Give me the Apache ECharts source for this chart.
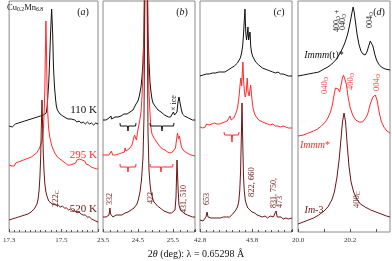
<!DOCTYPE html>
<html><head><meta charset="utf-8">
<script src="https://cdn.jsdelivr.net/npm/echarts@6/dist/echarts.min.js"></script>
<style>html,body{margin:0;padding:0;background:#fff}#c{width:392px;height:261px}</style>
</head><body><div id="c"></div>
<script>
// ---------------- data (2θ in degrees, intensity in arbitrary offset units) ----------------
const ticksA = ['17.3', '17.5'];
const ticksB = ['23.5', '24.5', '25.5'];
const ticksC = ['42.8', '43.8'];
const ticksD = ['20.0', '20.2'];

const a110 = [[17.300,106],[17.306,107],[17.312,105],[17.318,107],[17.324,108],[17.330,106],[17.336,109],[17.342,108],[17.348,110],[17.354,108],[17.360,111],[17.366,110],[17.372,112],[17.378,110],[17.384,113],[17.390,112],[17.396,114],[17.402,113],[17.408,115],[17.414,114],[17.420,116],[17.426,115],[17.432,117],[17.438,117],[17.442,119],[17.445,124],[17.448,134],[17.452,150],[17.455,170],[17.459,200],[17.463,223],[17.467,198],[17.470,165],[17.474,145],[17.478,133],[17.481,126],[17.485,122],[17.489,120],[17.495,118],[17.500,117],[17.506,116],[17.511,115],[17.518,114],[17.526,113],[17.532,112],[17.538,113],[17.545,111],[17.552,112],[17.560,110],[17.568,111],[17.576,109],[17.584,110],[17.592,108],[17.600,110],[17.608,108],[17.616,109],[17.624,107],[17.632,109],[17.641,108]];
const a295 = [[17.300,67],[17.305,69],[17.310,66],[17.315,68],[17.320,66],[17.325,69],[17.330,67],[17.335,70],[17.340,68],[17.345,71],[17.350,69],[17.355,72],[17.360,70],[17.365,73],[17.370,71],[17.375,74],[17.380,72],[17.385,75],[17.390,74],[17.395,77],[17.400,76],[17.405,79],[17.410,80],[17.415,83],[17.420,85],[17.425,90],[17.429,96],[17.432,106],[17.435,125],[17.437,145],[17.439,180],[17.441,211],[17.443,185],[17.445,150],[17.448,120],[17.451,105],[17.455,96],[17.460,90],[17.465,85],[17.470,83],[17.475,79],[17.480,77],[17.485,75],[17.490,76],[17.495,73],[17.500,74],[17.505,71],[17.510,72],[17.515,69],[17.520,70],[17.525,67],[17.530,69],[17.535,67],[17.540,69],[17.545,68],[17.550,70],[17.555,69],[17.560,72],[17.565,70],[17.570,73],[17.575,71],[17.580,72],[17.585,70],[17.590,71],[17.595,68],[17.600,69],[17.605,67],[17.610,68],[17.615,65],[17.620,66],[17.625,64],[17.630,65],[17.635,63],[17.641,64]];
const a520 = [[17.300,12],[17.306,11],[17.312,13],[17.318,12],[17.324,14],[17.330,13],[17.336,15],[17.342,14],[17.348,16],[17.354,15],[17.360,17],[17.366,16],[17.372,18],[17.378,19],[17.384,20],[17.390,21],[17.396,23],[17.402,25],[17.407,28],[17.411,33],[17.415,42],[17.418,55],[17.421,75],[17.423,100],[17.426,132],[17.429,100],[17.431,78],[17.434,60],[17.437,48],[17.441,40],[17.446,35],[17.452,31],[17.458,30],[17.465,28],[17.472,29],[17.480,27],[17.488,27],[17.496,25],[17.504,26],[17.512,24],[17.520,24],[17.528,22],[17.536,23],[17.544,21],[17.552,21],[17.560,19],[17.568,20],[17.576,18],[17.584,17],[17.592,17],[17.600,15],[17.608,15],[17.616,13],[17.624,12],[17.632,11],[17.641,10]];

const b110 = [[23.500,112],[23.529,111],[23.557,113],[23.586,112],[23.614,113],[23.643,112],[23.671,114],[23.700,113],[23.729,116],[23.743,113],[23.771,114],[23.800,113],[23.843,115],[23.886,114],[23.929,115],[23.971,114],[24.014,116],[24.057,116],[24.100,118],[24.143,117],[24.186,118],[24.229,119],[24.271,120],[24.314,121],[24.357,122],[24.400,125],[24.443,128],[24.471,129],[24.500,131],[24.543,137],[24.586,145],[24.614,155],[24.643,170],[24.671,200],[24.700,280],[24.729,700],[24.757,280],[24.786,200],[24.814,170],[24.843,150],[24.871,140],[24.900,133],[24.929,129],[24.957,127],[24.986,126],[25.029,124],[25.071,122],[25.114,121],[25.157,120],[25.200,118],[25.257,117],[25.314,116],[25.371,115],[25.429,115],[25.486,116],[25.514,120],[25.543,117],[25.586,117],[25.614,120],[25.643,130],[25.671,135],[25.700,134],[25.729,124],[25.771,118],[25.829,116],[25.886,115],[25.943,114],[26.000,113],[26.057,112],[26.129,112]];
const b295 = [[23.500,77],[23.529,76],[23.557,78],[23.586,77],[23.614,76],[23.643,78],[23.671,77],[23.714,78],[23.743,81],[23.771,77],[23.814,78],[23.857,77],[23.900,79],[23.943,78],[23.986,80],[24.029,79],[24.071,81],[24.114,80],[24.129,84],[24.157,81],[24.200,82],[24.243,83],[24.286,85],[24.329,87],[24.371,93],[24.400,97],[24.429,95],[24.457,92],[24.486,100],[24.514,105],[24.543,110],[24.586,120],[24.614,135],[24.643,160],[24.671,200],[24.700,300],[24.729,800],[24.757,300],[24.786,190],[24.814,140],[24.843,118],[24.871,104],[24.900,98],[24.929,96],[24.957,94],[24.986,92],[25.029,90],[25.071,88],[25.114,86],[25.157,85],[25.200,83],[25.271,82],[25.343,80],[25.414,79],[25.486,80],[25.529,81],[25.571,84],[25.600,92],[25.629,99],[25.657,93],[25.686,96],[25.714,90],[25.743,85],[25.786,82],[25.843,80],[25.900,79],[25.957,78],[26.014,77],[26.071,77],[26.129,76]];
const b520 = [[23.500,15],[23.529,14],[23.557,16],[23.586,15],[23.614,16],[23.643,15],[23.671,17],[23.686,16],[23.700,24],[23.714,18],[23.743,16],[23.786,15],[23.829,16],[23.871,17],[23.914,16],[23.957,17],[24.000,18],[24.043,17],[24.086,18],[24.129,19],[24.171,19],[24.214,20],[24.257,21],[24.300,22],[24.343,23],[24.386,24],[24.429,26],[24.471,28],[24.514,33],[24.557,40],[24.600,52],[24.643,75],[24.671,115],[24.700,250],[24.729,900],[24.757,250],[24.786,100],[24.814,62],[24.843,48],[24.871,40],[24.914,34],[24.957,30],[25.000,28],[25.057,26],[25.114,24],[25.171,23],[25.243,21],[25.314,20],[25.386,19],[25.457,19],[25.514,20],[25.557,22],[25.586,35],[25.614,72],[25.643,45],[25.671,27],[25.714,22],[25.771,20],[25.843,18],[25.914,17],[25.986,16],[26.057,15],[26.129,15]];

const c110 = [[42.800,156],[42.830,155],[42.860,157],[42.890,156],[42.920,158],[42.950,157],[42.980,158],[43.010,157],[43.040,159],[43.070,158],[43.100,159],[43.130,158],[43.160,160],[43.190,159],[43.220,160],[43.250,161],[43.280,160],[43.310,162],[43.340,162],[43.370,163],[43.400,164],[43.430,165],[43.460,166],[43.490,168],[43.520,169],[43.550,171],[43.575,174],[43.600,179],[43.620,186],[43.635,196],[43.650,210],[43.665,223],[43.680,200],[43.695,192],[43.710,198],[43.722,205],[43.735,192],[43.750,190],[43.762,200],[43.775,186],[43.790,180],[43.810,176],[43.840,173],[43.870,170],[43.900,168],[43.930,167],[43.960,165],[44.000,164],[44.050,163],[44.100,162],[44.150,161],[44.200,160],[44.250,159],[44.300,160],[44.350,158],[44.400,158],[44.450,157],[44.500,156],[44.569,156]];
const c295 = [[42.800,105],[42.825,107],[42.850,104],[42.875,106],[42.900,105],[42.925,108],[42.950,106],[42.975,107],[43.000,105],[43.025,108],[43.050,107],[43.075,109],[43.100,107],[43.125,108],[43.150,110],[43.175,108],[43.200,110],[43.225,109],[43.250,111],[43.275,110],[43.300,112],[43.325,111],[43.350,113],[43.377,116],[43.400,112],[43.425,111],[43.450,114],[43.475,117],[43.500,120],[43.525,125],[43.550,135],[43.570,147],[43.585,154],[43.600,146],[43.615,160],[43.625,170],[43.640,150],[43.655,140],[43.670,135],[43.690,140],[43.708,154],[43.725,140],[43.745,136],[43.760,142],[43.775,147],[43.790,138],[43.805,130],[43.820,124],[43.845,119],[43.870,116],[43.900,114],[43.930,112],[43.960,111],[44.000,110],[44.050,109],[44.100,108],[44.150,107],[44.200,108],[44.250,106],[44.300,106],[44.350,105],[44.400,106],[44.450,105],[44.500,104],[44.569,104]];
const c520 = [[42.800,12],[42.830,13],[42.860,11],[42.890,13],[42.915,15],[42.935,20],[42.955,15],[42.980,13],[43.010,14],[43.040,12],[43.070,14],[43.100,13],[43.130,14],[43.160,12],[43.190,14],[43.220,13],[43.250,15],[43.280,14],[43.310,15],[43.340,16],[43.370,15],[43.400,17],[43.430,18],[43.460,20],[43.490,22],[43.520,25],[43.545,30],[43.565,42],[43.580,60],[43.595,95],[43.608,129],[43.620,95],[43.635,58],[43.650,42],[43.670,32],[43.690,28],[43.720,24],[43.760,22],[43.800,20],[43.850,19],[43.900,17],[43.950,16],[44.000,15],[44.050,16],[44.100,14],[44.150,16],[44.185,18],[44.210,15],[44.240,16],[44.262,21],[44.285,15],[44.320,14],[44.360,15],[44.400,13],[44.450,14],[44.500,13],[44.569,14]];

const d110 = [[20.000,156],[20.020,157],[20.040,158],[20.060,159],[20.080,160],[20.100,163],[20.115,165],[20.130,168],[20.145,172],[20.160,178],[20.170,183],[20.180,189],[20.190,197],[20.197,205],[20.203,213],[20.208,220],[20.212,225],[20.216,220],[20.221,210],[20.227,198],[20.234,188],[20.242,181],[20.250,178],[20.258,177],[20.265,180],[20.272,186],[20.278,191],[20.282,191],[20.288,186],[20.295,178],[20.302,172],[20.310,168],[20.320,165],[20.335,163],[20.354,162]];
const d295 = [[20.000,96],[20.020,97],[20.040,99],[20.060,101],[20.075,103],[20.090,106],[20.105,110],[20.115,114],[20.125,120],[20.132,127],[20.138,136],[20.144,144],[20.150,146],[20.155,143],[20.160,140],[20.165,146],[20.170,153],[20.175,157],[20.180,156],[20.186,148],[20.192,136],[20.200,125],[20.210,117],[20.222,112],[20.235,110],[20.248,110],[20.258,113],[20.268,118],[20.278,128],[20.288,135],[20.297,137],[20.304,132],[20.312,120],[20.320,111],[20.330,105],[20.342,101],[20.354,99]];
const d520 = [[20.000,8],[20.020,10],[20.040,12],[20.060,14],[20.080,17],[20.100,21],[20.115,25],[20.130,32],[20.140,40],[20.150,55],[20.158,72],[20.165,92],[20.171,110],[20.177,119],[20.183,110],[20.189,88],[20.196,66],[20.204,50],[20.214,40],[20.226,33],[20.240,28],[20.258,25],[20.280,22],[20.300,20],[20.320,18],[20.340,16],[20.354,15]];

// superstructure-range braces (data coordinates)
const braceB110a = [[23.986,109],[23.995,106],[24.200,106],[24.214,101],[24.228,106],[24.430,106],[24.443,109]];
const braceB110b = [[24.843,109],[24.855,106],[25.172,106],[25.186,101],[25.200,106],[25.515,106],[25.529,109]];
const braceB295a = [[23.986,68],[23.995,65],[24.200,65],[24.214,60],[24.228,65],[24.430,65],[24.443,68]];
const braceB295b = [[24.843,68],[24.855,65],[25.143,65],[25.157,60],[25.171,65],[25.490,65],[25.500,68]];
const braceC295 = [[43.262,100],[43.272,97],[43.405,97],[43.415,90],[43.425,97],[43.540,97],[43.550,100]];

// ---------------- chart ----------------
const FONT = 'Liberation Serif';
const K = '#111111', R = '#ff2b2b', M = '#6e1414';
const panels = [
  {min:17.3, max:17.6407, interval:0.2, minor:10, labels:ticksA, left:6},
  {min:23.5, max:26.1286, interval:1, minor:5, labels:ticksB, left:103},
  {min:42.8, max:44.5692, interval:1, minor:8, labels:ticksC, left:200},
  {min:20.0, max:20.3538, interval:0.1, minor:0, labels:ticksD, left:298}
];
const traces = [[a110,a295,a520],[b110,b295,b520],[c110,c295,c520],[d110,d295,d520]];
const braces = [[1,braceB110a,K],[1,braceB110b,K],[1,braceB295a,R],[1,braceB295b,R],[2,braceC295,R]];

const series = [];
traces.forEach((tr, g) => {
  [K, R, M].forEach((col, k) => {
    series.push({type:'line', xAxisIndex:g, yAxisIndex:g, data:tr[k], showSymbol:false, silent:true,
      lineStyle:{color:col, width:1}, clip:true});
  });
});
braces.forEach(([g, d, col]) => {
  series.push({type:'line', xAxisIndex:g, yAxisIndex:g, data:d, showSymbol:false, silent:true,
    lineStyle:{color:col, width:1}});
});

function rich(sz, col) {
  return {
    s:{fontSize:sz*0.68, fontFamily:FONT, fill:col, verticalAlign:'bottom', padding:[sz*0.45,0,0,0]},
    i:{fontSize:sz, fontFamily:FONT, fontStyle:'italic', fill:col},
    n:{fontSize:sz, fontFamily:FONT, fill:col}
  };
}
function txt(x, y, text, col, sz, opt) {
  opt = opt || {};
  return {type:'text', x:x, y:y, rotation: opt.rot ? Math.PI/2 : 0, silent:true, z:100,
    style:{text:text, fill:col, fontSize:sz, fontFamily:FONT, fontStyle: opt.italic ? 'italic' : 'normal',
      align: opt.align || 'center', verticalAlign: opt.va || 'middle', rich: rich(sz, col)}};
}
const graphics = [
  txt(7, 8, 'Cu{s|0.2}Mn{s|6.8}', K, 8.5, {align:'left'}),
  txt(83, 12, '({i|a})', K, 10),
  txt(182, 12, '({i|b})', K, 10),
  txt(279, 12, '({i|c})', K, 10),
  txt(379, 12, '({i|d})', K, 10),
  txt(97, 110, '110 K', K, 11, {align:'right'}),
  txt(97, 155, '295 K', R, 11, {align:'right'}),
  txt(97, 209, '520 K', M, 11, {align:'right'}),
  txt(56, 207, '222{s|C}', M, 8.5, {rot:true, align:'left'}),
  txt(110, 205, '332', M, 8, {rot:true, align:'left'}),
  txt(151, 204, '422', M, 8, {rot:true, align:'left'}),
  txt(184, 213, '431, 510', M, 8, {rot:true, align:'left'}),
  txt(174, 111, '× ice', K, 8, {rot:true, align:'left'}),
  txt(207, 205, '653', M, 8, {rot:true, align:'left'}),
  txt(252, 197, '822, 660', M, 8.5, {rot:true, align:'left'}),
  txt(274, 208, '831, 750,', M, 8, {rot:true, align:'left'}),
  txt(280, 208, '473', M, 8, {rot:true, align:'left'}),
  txt(337, 32, '400{s|O} +', K, 8, {rot:true, align:'left'}),
  txt(343, 30, '040{s|O}', K, 8, {rot:true, align:'left'}),
  txt(370, 28, '004{s|O}', K, 8, {rot:true, align:'left'}),
  txt(324, 55, '{i|Immm}(t)*', K, 10),
  txt(325, 94, '040{s|O}', R, 8.5, {rot:true, align:'left'}),
  txt(351, 90, '400{s|O}', R, 8.5, {rot:true, align:'left'}),
  txt(377, 91, '004{s|O}', R, 8.5, {rot:true, align:'left'}),
  txt(315, 145, '{i|Immm}*', R, 10),
  txt(357, 208, '400{s|C}', M, 8.5, {rot:true, align:'left'}),
  txt(314, 210, '{i|Im}-3', M, 10),
  txt(196, 254, '2{i|θ} (deg): λ = 0.65298 Å', K, 10)
];

const chart = echarts.init(document.getElementById('c'), null, {renderer:'canvas', width:392, height:261});
chart.setOption({
  animation:false,
  backgroundColor:'#ffffff',
  grid: panels.map(p => ({left:p.left, top:1, width:92, height:231, show:true, borderColor:'#8a8a8a', borderWidth:1, backgroundColor:'transparent'})),
  xAxis: panels.map((p, i) => ({type:'value', gridIndex:i, min:p.min, max:p.max, interval:p.interval,
    axisLine:{show:false}, splitLine:{show:false},
    axisTick:{show:true, inside:true, length:3, lineStyle:{color:'#555', width:1}},
    minorTick:{show:p.minor > 0, splitNumber:p.minor || 5, length:2, lineStyle:{color:'#555', width:1}},
    minorSplitLine:{show:false},
    axisLabel:{show:true, fontFamily:FONT, fontSize:7, color:'#333', margin:5, showMaxLabel:false,
      formatter: v => { const s = (+v).toFixed(1); return p.labels.indexOf(s) >= 0 ? s : ''; }}
  })),
  yAxis: panels.map((p, i) => ({type:'value', gridIndex:i, min:0, max:231, show:false})),
  series: series,
  graphic: graphics
});
</script></body></html>
